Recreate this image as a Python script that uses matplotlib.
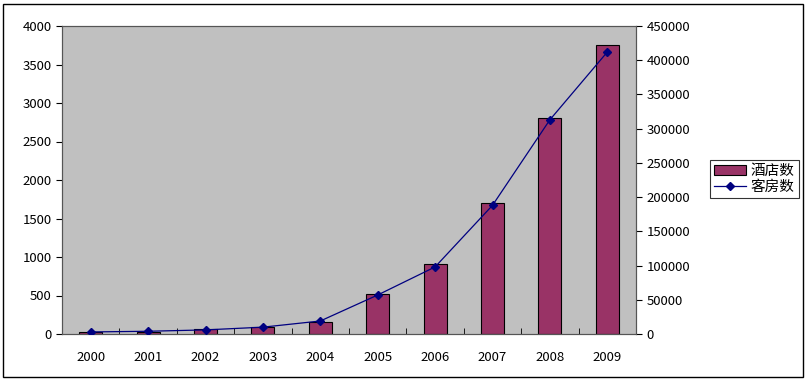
import matplotlib.pyplot as plt
from matplotlib.patches import Rectangle
from matplotlib.lines import Line2D

plt.rcParams['font.family'] = ['Noto Sans CJK SC', 'DejaVu Sans']

years = ['2000', '2001', '2002', '2003', '2004', '2005', '2006', '2007', '2008', '2009']
hotels = [25, 30, 65, 90, 155, 520, 910, 1700, 2805, 3753]
rooms = [3000, 4000, 6000, 10000, 19000, 57000, 98000, 188000, 313000, 412000]

fig = plt.figure(figsize=(8.07, 3.80), dpi=100)
ax = fig.add_axes([62 / 807, 1 - 334 / 380, (636 - 62) / 807, (334 - 26) / 380])
ax.set_facecolor('#c0c0c0')

x = list(range(len(years)))
ax.bar(x, hotels, width=0.4, color='#993366', edgecolor='black', linewidth=0.8, zorder=2)
ax.set_xlim(-0.5, len(years) - 0.5)
ax.set_ylim(0, 4000)
ax.set_yticks(range(0, 4001, 500))
ax.set_xticks(x)
ax.set_xticklabels(years)
ax.set_xticks([i + 0.5 for i in x[:-1]], minor=True)
ax.tick_params(axis='x', which='major', length=0, pad=12)
ax.tick_params(axis='x', which='minor', length=4, direction='in')
ax.tick_params(axis='y', length=4, direction='out')
ax.tick_params(labelsize=9.5)

ax2 = ax.twinx()
ax2.plot(x, rooms, color='#000080', linewidth=0.9, marker='D', markersize=4, zorder=3)
ax2.set_ylim(0, 450000)
ax2.set_yticks(range(0, 450001, 50000))
ax2.tick_params(axis='y', length=4, direction='out', labelsize=9.5)

for a in (ax, ax2):
    for s in a.spines.values():
        s.set_color('#555555')
        s.set_linewidth(0.8)

handles = [Rectangle((0, 0), 1, 1, facecolor='#993366', edgecolor='black', linewidth=0.8),
           Line2D([], [], color='#000080', linewidth=0.9, marker='D', markersize=4)]
leg = fig.legend(handles, ['酒店数', '客房数'], loc='center left',
                 bbox_to_anchor=(710 / 807, 1 - 179 / 380), fontsize=10.5,
                 frameon=True, fancybox=False, edgecolor='black',
                 handlelength=2.2, handletextpad=0.3, borderpad=0.3,
                 labelspacing=0.15, borderaxespad=0)
leg.get_frame().set_linewidth(0.8)

fig.patches.append(Rectangle((3 / 807, 3 / 380), 800 / 807, 373 / 380,
                             transform=fig.transFigure, fill=False,
                             edgecolor='black', linewidth=1))

fig.savefig('out.png', dpi=100)
